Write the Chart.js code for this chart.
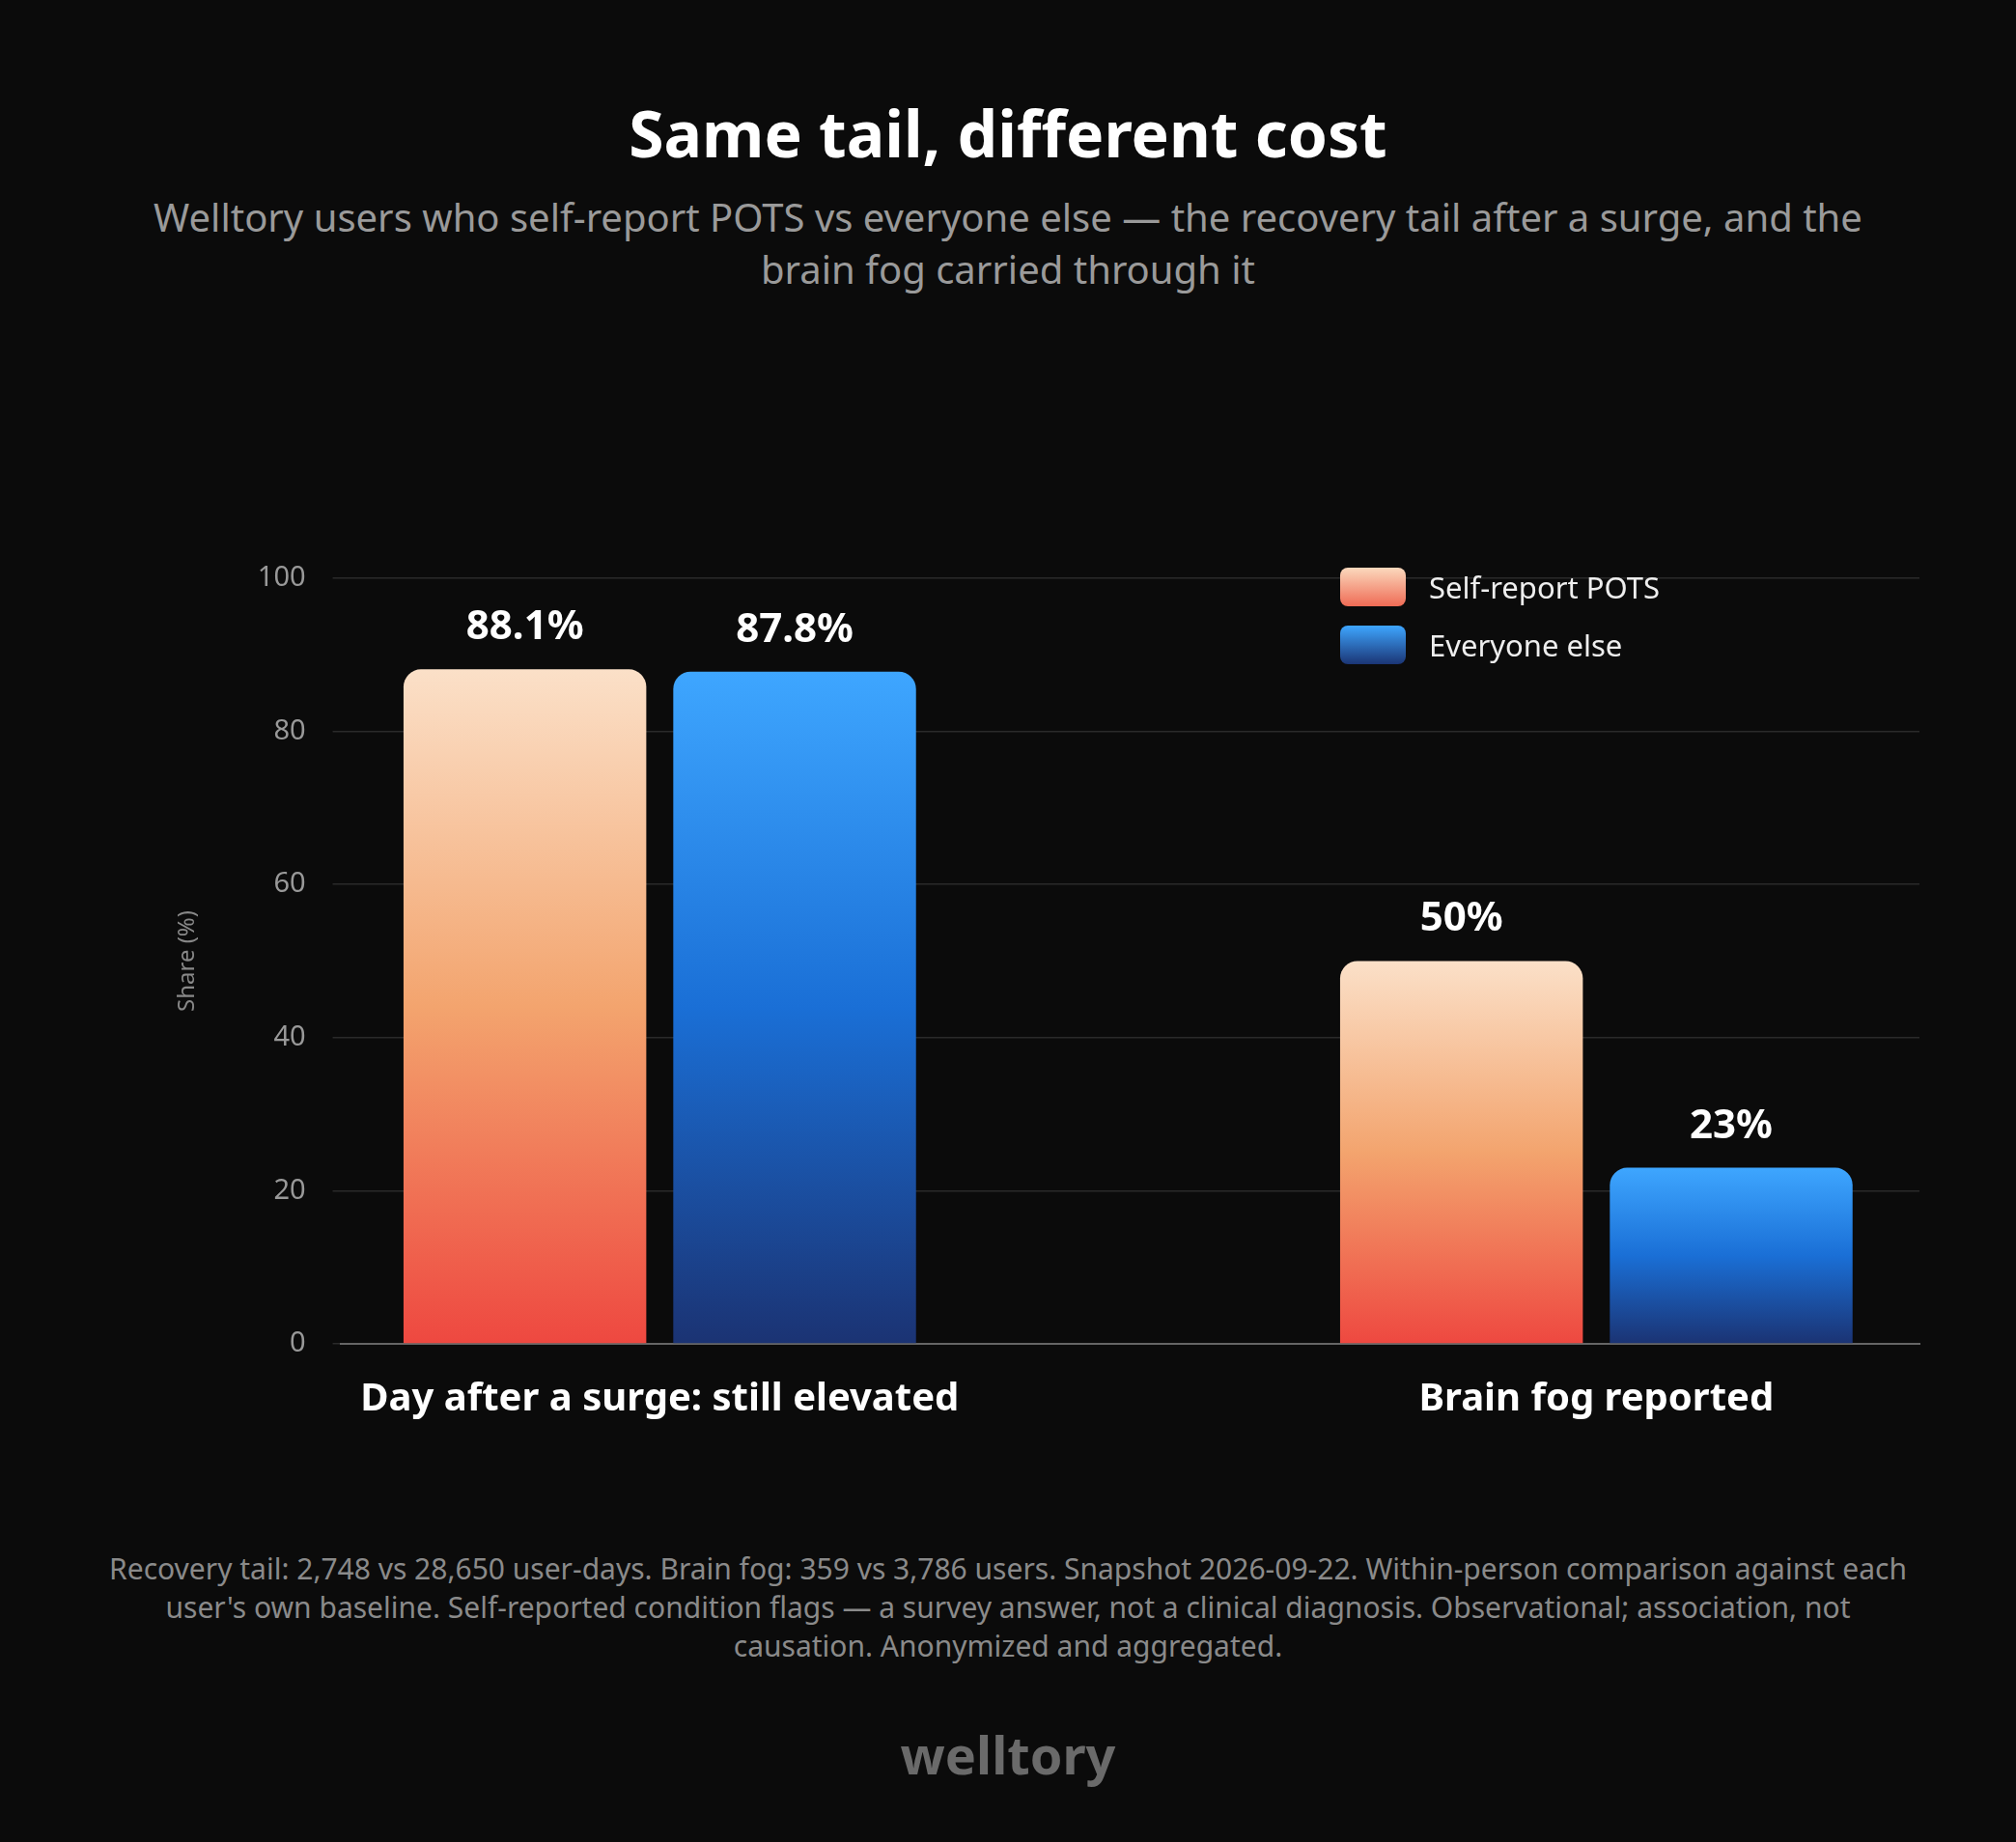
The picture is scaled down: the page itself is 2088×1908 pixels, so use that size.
<!DOCTYPE html>
<html>
<head>
<meta charset="utf-8">
<script src="https://cdn.jsdelivr.net/npm/chart.js@4/dist/chart.umd.min.js"></script>
<style>
  body { margin: 0; background: #0b0b0b; width: 2088px; height: 1908px; position: relative; overflow: hidden; font-family: "Noto Sans", sans-serif; }
  .title { position: absolute; top: 92px; width: 100%; text-align: center; color: #fff; font-size: 66px; font-weight: 700; }
  .sub { position: absolute; top: 198px; left: 120px; right: 120px; text-align: center; color: #9a9a9a; font-size: 40px; line-height: 54px; }
  #wrap { position: absolute; left: 0; top: 540px; width: 2088px; height: 960px; }
  .legend { position: absolute; left: 1388px; top: 578px; color: #eee; font-size: 31px; }
  .legend div { display: flex; align-items: center; height: 60px; }
  .legend span.box { width: 68px; height: 40px; border-radius: 8px; margin-right: 24px; }
  .foot { position: absolute; top: 1605px; left: 108px; right: 108px; text-align: center; color: #8a8a8a; font-size: 30px; line-height: 40px; }
  .brand { position: absolute; top: 1780px; width: 100%; text-align: center; color: #6a6a6a; font-size: 54px; font-weight: 700; }
</style>
</head>
<body>
<div class="title">Same tail, different cost</div>
<div class="sub">Welltory users who self-report POTS vs everyone else — the recovery tail after a surge, and the brain fog carried through it</div>
<div id="wrap"><canvas id="myChart" width="2088" height="960"></canvas></div>
<div class="legend">
  <div><span class="box" style="background:linear-gradient(#fbd9bd,#ef6b55)"></span>Self-report POTS</div>
  <div><span class="box" style="background:linear-gradient(#3ea6ff,#1b3575)"></span>Everyone else</div>
</div>
<div class="foot">Recovery tail: 2,748 vs 28,650 user-days. Brain fog: 359 vs 3,786 users. Snapshot 2026-09-22. Within-person comparison against each user's own baseline. Self-reported condition flags — a survey answer, not a clinical diagnosis. Observational; association, not causation. Anonymized and aggregated.</div>
<div class="brand">welltory</div>
<script>
'use strict';

let categories = ['Day after a surge: still elevated', 'Brain fog reported'];
let potsValues = [88.1, 50];
let elseValues = [87.8, 23];
let valueLabels = [['88.1%', '50%'], ['87.8%', '23%']];
let yTicks = [0, 20, 40, 60, 80, 100];

function barGradient(stops) {
    return function (ctx) {
        let chart = ctx.chart;
        let y = chart.scales.y;
        if (!y || !ctx.parsed) return stops[1];
        let top = y.getPixelForValue(ctx.parsed.y);
        let bottom = y.getPixelForValue(0);
        if (!isFinite(top) || !isFinite(bottom) || top === bottom) return stops[1];
        let g = chart.ctx.createLinearGradient(0, top, 0, bottom);
        g.addColorStop(0, stops[0]);
        g.addColorStop(0.5, stops[1]);
        g.addColorStop(1, stops[2]);
        return g;
    };
}

//value labels above bars
let valuePlugin = {
    id: 'valueLabels',
    afterDatasetsDraw(chart) {
        let c = chart.ctx;
        c.save();
        c.fillStyle = '#ffffff';
        c.font = 'bold 42px "Noto Sans"';
        c.textAlign = 'center';
        c.textBaseline = 'bottom';
        chart.data.datasets.forEach(function (ds, i) {
            chart.getDatasetMeta(i).data.forEach(function (bar, j) {
                c.fillText(valueLabels[i][j], bar.x, bar.y - 22);
            });
        });
        c.restore();
    }
};

let data = {
    datasets: [{
        label: 'Self-report POTS',
        data: potsValues.map(function (v, i) { return { x: i, y: v }; }),
        backgroundColor: barGradient(['#fbe0c8', '#f3a46e', '#ee4840']),
        borderRadius: 18,
        borderSkipped: 'bottom',
        barPercentage: 0.9,
        categoryPercentage: 0.576
    }, {
        label: 'Everyone else',
        data: elseValues.map(function (v, i) { return { x: i, y: v }; }),
        backgroundColor: barGradient(['#3ea6ff', '#1a6fd6', '#1b3373']),
        borderRadius: 18,
        borderSkipped: 'bottom',
        barPercentage: 0.9,
        categoryPercentage: 0.576
    }]
};

let config = {
    type: 'bar',
    data,
    options: {
        responsive: false,
        animation: false,
        layout: { padding: { left: 150, right: 100, top: 59, bottom: 0 } },
        plugins: { legend: { display: false }, tooltip: { enabled: false } },
        scales: {
            x: {
                type: 'linear',
                min: -0.341,
                max: 1.345,
                offset: false,
                afterBuildTicks: function (axis) { axis.ticks = categories.map(function (c, i) { return { value: i }; }); },
                ticks: {
                    color: '#ffffff',
                    font: { size: 40, weight: 'bold', family: 'Noto Sans' },
                    padding: 26,
                    maxRotation: 0,
                    autoSkip: false,
                    callback: function (v) { return categories[v]; }
                },
                grid: { display: false },
                border: { color: '#666', width: 2 }
            },
            y: {
                min: 0,
                max: 100,
                afterBuildTicks: function (axis) { axis.ticks = yTicks.map(function (v) { return { value: v }; }); },
                ticks: { color: '#999', font: { size: 29, family: 'Noto Sans' }, padding: 28 },
                grid: { color: '#2a2a2a', lineWidth: 1.5 },
                border: { display: false },
                title: { display: true, text: 'Share (%)', color: '#888', font: { size: 24, family: 'Noto Sans' }, padding: 30 }
            }
        }
    },
    plugins: [valuePlugin]
};

let myChart = new Chart(document.getElementById('myChart'), config);
</script>
</body>
</html>
